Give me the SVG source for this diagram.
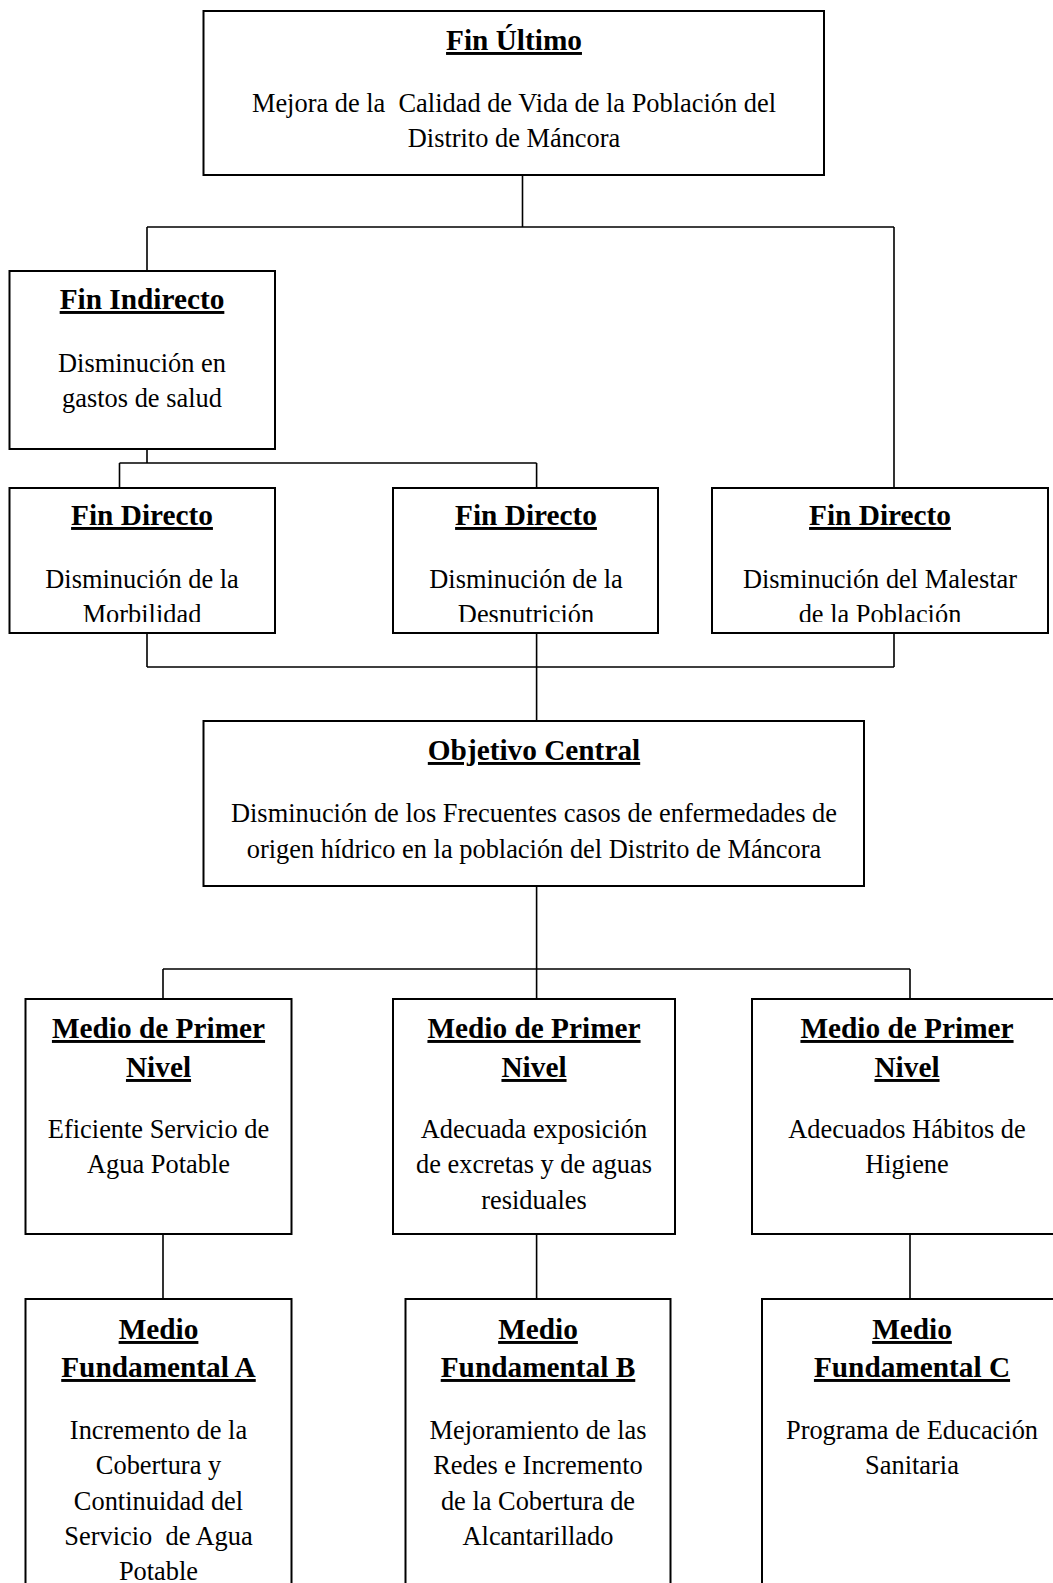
<svg xmlns="http://www.w3.org/2000/svg" width="1053" height="1583" viewBox="0 0 1053 1583">
<style>
.box{fill:#fff;stroke:#000;stroke-width:2}
.t{font-family:"Liberation Serif","Times New Roman",serif;font-size:29.3px;font-weight:bold;text-anchor:middle;text-decoration:underline;fill:#000}
.b{font-family:"Liberation Serif","Times New Roman",serif;font-size:26.4px;text-anchor:middle;fill:#000}
.c{fill:none;stroke:#000;stroke-width:1.6}
</style>
<defs>
<clipPath id="clipFD"><rect x="0" y="0" width="1053" height="622"/></clipPath>
</defs>
<rect x="0" y="0" width="1053" height="1583" fill="#fff"/>
<g id="connectors">
<path class="c" d="M522.5,175 V227 M147,227 H894 M147,227 V271 M894,227 V488"/>
<path class="c" d="M147,449 V463 M119.5,463 H536.6 M119.5,463 V488 M536.6,463 V488"/>
<path class="c" d="M147,633 V667 M894,633 V667 M147,667 H894 M536.6,633 V721"/>
<path class="c" d="M536.6,886 V969 M163,969 H910 M163,969 V999 M536.6,969 V999 M910,969 V999"/>
<path class="c" d="M163,1234 V1299 M536.6,1234 V1299 M910,1234 V1299"/>
</g>
<g id="fin-ultimo">
<rect class="box" x="203.5" y="11" width="620.5" height="164"/>
<text class="t" x="514" y="50">Fin Último</text>
<text class="b" x="514" y="112" xml:space="preserve">Mejora de la  Calidad de Vida de la Población del</text>
<text class="b" x="514" y="147">Distrito de Máncora</text>
</g>
<g id="fin-indirecto">
<rect class="box" x="9.5" y="271" width="265.5" height="178"/>
<text class="t" x="142" y="309">Fin Indirecto</text>
<text class="b" x="142" y="372">Disminución en</text>
<text class="b" x="142" y="407">gastos de salud</text>
</g>
<g id="fin-directo-1">
<rect class="box" x="9.5" y="488" width="265.5" height="145"/>
<text class="t" x="142" y="525">Fin Directo</text>
<text class="b" x="142" y="588">Disminución de la</text>
<text class="b" x="142" y="623" clip-path="url(#clipFD)">Morbilidad</text>
</g>
<g id="fin-directo-2">
<rect class="box" x="393" y="488" width="265" height="145"/>
<text class="t" x="526" y="525">Fin Directo</text>
<text class="b" x="526" y="588">Disminución de la</text>
<text class="b" x="526" y="623" clip-path="url(#clipFD)">Desnutrición</text>
</g>
<g id="fin-directo-3">
<rect class="box" x="712" y="488" width="336" height="145"/>
<text class="t" x="880" y="525">Fin Directo</text>
<text class="b" x="880" y="588">Disminución del Malestar</text>
<text class="b" x="880" y="623" clip-path="url(#clipFD)">de la Población</text>
</g>
<g id="objetivo-central">
<rect class="box" x="203.5" y="721" width="660.5" height="165"/>
<text class="t" x="534" y="760">Objetivo Central</text>
<text class="b" x="534" y="822">Disminución de los Frecuentes casos de enfermedades de</text>
<text class="b" x="534" y="858">origen hídrico en la población del Distrito de Máncora</text>
</g>
<g id="medio-primer-1">
<rect class="box" x="25.5" y="999" width="266" height="235"/>
<text class="t" x="158.5" y="1038">Medio de Primer</text>
<text class="t" x="158.5" y="1077">Nivel</text>
<text class="b" x="158.5" y="1138">Eficiente Servicio de</text>
<text class="b" x="158.5" y="1173">Agua Potable</text>
</g>
<g id="medio-primer-2">
<rect class="box" x="393" y="999" width="282" height="235"/>
<text class="t" x="534" y="1038">Medio de Primer</text>
<text class="t" x="534" y="1077">Nivel</text>
<text class="b" x="534" y="1138">Adecuada exposición</text>
<text class="b" x="534" y="1173">de excretas y de aguas</text>
<text class="b" x="534" y="1209">residuales</text>
</g>
<g id="medio-primer-3">
<rect class="box" x="752" y="999" width="310" height="235"/>
<text class="t" x="907" y="1038">Medio de Primer</text>
<text class="t" x="907" y="1077">Nivel</text>
<text class="b" x="907" y="1138">Adecuados Hábitos de</text>
<text class="b" x="907" y="1173">Higiene</text>
</g>
<g id="medio-fundamental-a">
<rect class="box" x="25.5" y="1299" width="266" height="300"/>
<text class="t" x="158.5" y="1339">Medio</text>
<text class="t" x="158.5" y="1377">Fundamental A</text>
<text class="b" x="158.5" y="1439">Incremento de la</text>
<text class="b" x="158.5" y="1474">Cobertura y</text>
<text class="b" x="158.5" y="1510">Continuidad del</text>
<text class="b" x="158.5" y="1545" xml:space="preserve">Servicio  de Agua</text>
<text class="b" x="158.5" y="1580">Potable</text>
</g>
<g id="medio-fundamental-b">
<rect class="box" x="405.5" y="1299" width="265" height="300"/>
<text class="t" x="538" y="1339">Medio</text>
<text class="t" x="538" y="1377">Fundamental B</text>
<text class="b" x="538" y="1439">Mejoramiento de las</text>
<text class="b" x="538" y="1474">Redes e Incremento</text>
<text class="b" x="538" y="1510">de la Cobertura de</text>
<text class="b" x="538" y="1545">Alcantarillado</text>
</g>
<g id="medio-fundamental-c">
<rect class="box" x="762" y="1299" width="300" height="300"/>
<text class="t" x="912" y="1339">Medio</text>
<text class="t" x="912" y="1377">Fundamental C</text>
<text class="b" x="912" y="1439">Programa de Educación</text>
<text class="b" x="912" y="1474">Sanitaria</text>
</g>
</svg>
